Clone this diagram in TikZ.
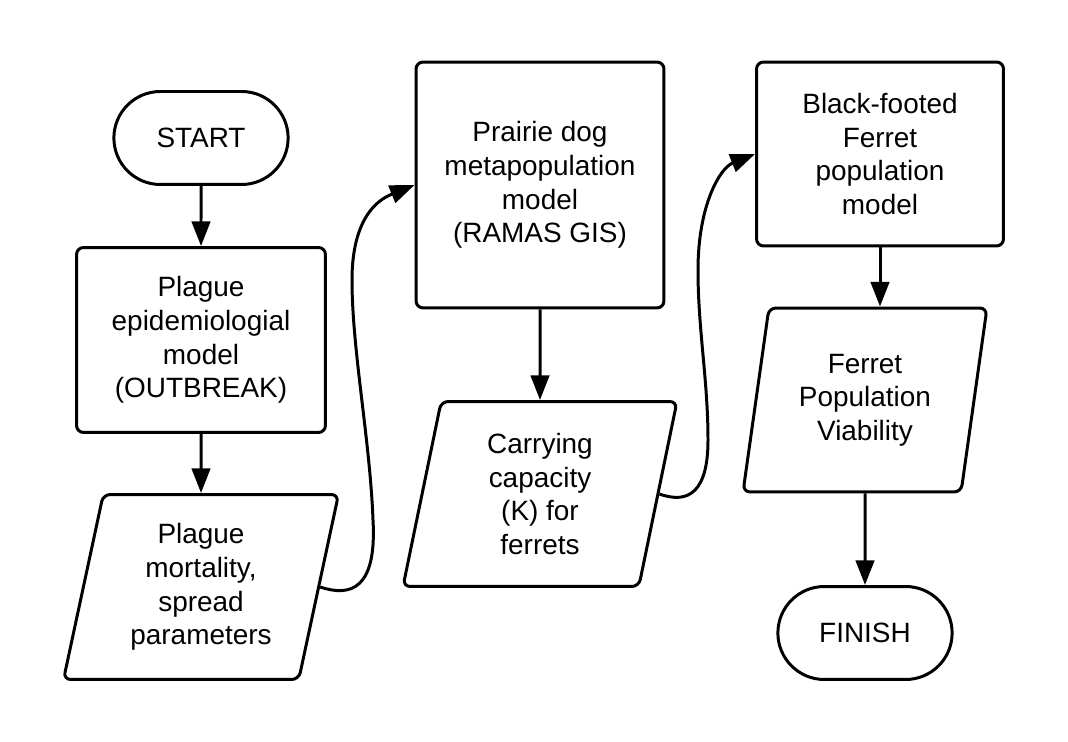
\documentclass[tikz,border=0pt]{standalone}
\usepackage{fontspec}
\setmainfont{Liberation Sans}
\usetikzlibrary{shapes.geometric,shapes.misc,arrows.meta}

\begin{document}
\begin{tikzpicture}[x=0.02cm, y=-0.02cm, line width=1.7pt,
  font=\fontsize{15.9pt}{19.1pt}\selectfont,
  terminal/.style={draw, rounded rectangle, minimum width=3.72cm, minimum height=1.86cm},
  process/.style={draw, rectangle, rounded corners=4pt, align=center},
  data/.style={draw, trapezium, trapezium left angle=74, trapezium right angle=106,
    trapezium stretches body, rounded corners=4pt, align=center, minimum height=3.7cm},
  flow/.style={-{Triangle[length=14pt,width=10.5pt]}}]
\useasboundingbox (0,0) rectangle (1068,742);

% Start
\node[terminal] (start) at (201,138) {START};

% Plague model
\node[process, minimum width=4.98cm, minimum height=3.7cm] (plague) at (201,340)
  {Plague\\epidemiologial\\model\\(OUTBREAK)};
\node[data, minimum width=5.5cm] (mortality) at (201,587)
  {Plague\\mortality,\\spread\\parameters};

% Prairie dog model
\node[process, minimum width=4.96cm, minimum height=4.92cm] (prairie) at (540,185)
  {Prairie dog\\metapopulation\\model\\(RAMAS GIS)};
\node[data, minimum width=5.48cm] (capacity) at (540,494)
  {Carrying\\capacity\\(K) for\\ferrets};

% Ferret model
\node[process, minimum width=4.94cm, minimum height=3.68cm] (ferret) at (880,154)
  {Black-footed\\Ferret\\population\\model};
\node[data, trapezium left angle=76, trapezium right angle=104, minimum width=4.88cm,
  minimum height=3.68cm] (viability) at (865,400)
  {Ferret\\Population\\Viability};

% Finish
\node[terminal] (finish) at (865,633) {FINISH};

% Connections
\draw[flow] (start) -- (plague);
\draw[flow] (plague) -- (mortality);
\draw[flow] (mortality.east) .. controls (350,597) and (377,590) .. (373,520)
  .. controls (370,440) and (352,350) .. (352,280)
  .. controls (352,210) and (385,197) .. (prairie.west);
\draw[flow] (prairie) -- (capacity);
\draw[flow] (capacity.east) .. controls (690,505) and (708,490) .. (708,440)
  .. controls (708,380) and (698,330) .. (698,270)
  .. controls (698,205) and (720,168) .. (ferret.west);
\draw[flow] (ferret.south) -- (ferret.south |- viability.north);
\draw[flow] (viability) -- (finish);

\end{tikzpicture}
\end{document}
